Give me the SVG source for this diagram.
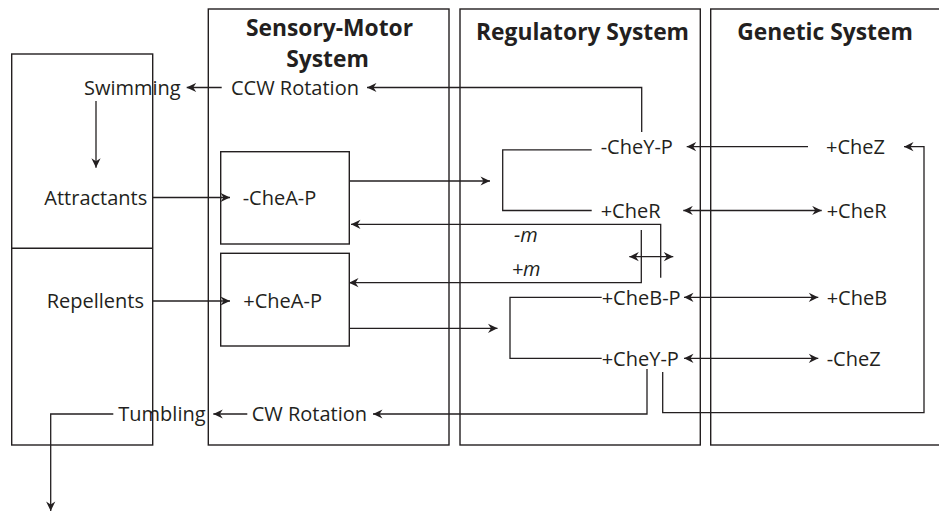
<svg xmlns="http://www.w3.org/2000/svg" width="939" height="514" viewBox="0 0 939 514">
<style>
.box{fill:none;stroke:#231f20;stroke-width:1.4}
.ln{fill:none;stroke:#231f20;stroke-width:1.3}
.t{font-family:"Open Sans","Liberation Sans",sans-serif;font-size:20px;fill:#231f20}
.h{font-family:"Open Sans","Liberation Sans",sans-serif;font-size:22.8px;font-weight:bold;fill:#231f20;text-anchor:middle}
.i{font-style:italic}
</style>
<defs>
<marker id="ah" viewBox="-10 -5 10 10" refX="0" refY="0" markerWidth="10" markerHeight="10" markerUnits="userSpaceOnUse" orient="auto-start-reverse">
<path d="M0,0 L-9.5,-4.6 L-6.5,0 L-9.5,4.6 Z" fill="#231f20"/>
</marker>
</defs>
<rect width="939" height="514" fill="#fff"/>

<g id="environment">
<rect class="box" x="11.7" y="54" width="141" height="391"/>
<line class="box" x1="11.7" y1="248.3" x2="152.7" y2="248.3"/>
</g>
<g id="sensory-motor-system">
<rect class="box" x="208.3" y="9" width="240.7" height="436"/>
<text class="h" x="329.5" y="35.8">Sensory-Motor</text>
<text class="h" x="327.5" y="67">System</text>
</g>
<g id="regulatory-system">
<rect class="box" x="460" y="9" width="240.3" height="436"/>
<text class="h" x="582.5" y="40">Regulatory System</text>
</g>
<g id="genetic-system">
<rect class="box" x="710.7" y="9" width="240" height="436"/>
<text class="h" x="825" y="40">Genetic System</text>
</g>

<g id="connectors">
<path class="ln" d="M221.7,87.5 H186.7" marker-end="url(#ah)"/>
<path class="ln" d="M641.7,132 V87.5 H367" marker-end="url(#ah)"/>
<path class="ln" d="M96,101 V167.7" marker-end="url(#ah)"/>
<path class="ln" d="M152.7,197.5 H230" marker-end="url(#ah)"/>
<path class="ln" d="M152.7,301 H230" marker-end="url(#ah)"/>
<path class="ln" d="M349.3,181 H490" marker-end="url(#ah)"/>
<path class="ln" d="M349.3,328.3 H497.5" marker-end="url(#ah)"/>
<path class="ln" d="M591.7,149.8 H502.7 V210.5 H591.7"/>
<path class="ln" d="M601.7,297.3 H510 V358.3 H601.7"/>
<path class="ln" d="M808,146.7 H686.7" marker-end="url(#ah)"/>
<path class="ln" d="M683.3,210.5 H821.7" marker-start="url(#ah)" marker-end="url(#ah)"/>
<path class="ln" d="M660.7,277.7 V224.3 H351" marker-end="url(#ah)"/>
<path class="ln" d="M641.3,230 V282.7 H349" marker-end="url(#ah)"/>
<path class="ln" d="M629.3,256.7 H673.3" marker-start="url(#ah)" marker-end="url(#ah)"/>
<path class="ln" d="M684,297.3 H818.3" marker-start="url(#ah)" marker-end="url(#ah)"/>
<path class="ln" d="M684,358.3 H818.3" marker-start="url(#ah)" marker-end="url(#ah)"/>
<path class="ln" d="M647,369 V414 H373" marker-end="url(#ah)"/>
<path class="ln" d="M662.7,372 V412.7 H924 V146.7 H904" marker-end="url(#ah)"/>
<path class="ln" d="M247.3,414 H213.3" marker-end="url(#ah)"/>
<path class="ln" d="M113.3,414 H50.7 V511" marker-end="url(#ah)"/>
</g>

<g id="swimming"><text class="t" x="84" y="95">Swimming</text></g>
<g id="attractants"><text class="t" x="44.3" y="204.8">Attractants</text></g>
<g id="repellents"><text class="t" x="46.7" y="308.3">Repellents</text></g>
<g id="tumbling"><text class="t" x="118.3" y="421.3">Tumbling</text></g>
<g id="ccw-rotation"><text class="t" x="231" y="95">CCW Rotation</text></g>
<g id="cw-rotation"><text class="t" x="251.7" y="421.3">CW Rotation</text></g>
<g id="minus-chea-p">
<rect class="box" x="220.7" y="151.7" width="128.6" height="92.3"/>
<text class="t" x="242.7" y="205">-CheA-P</text>
</g>
<g id="plus-chea-p">
<rect class="box" x="220.7" y="253.3" width="128.6" height="92.7"/>
<text class="t" x="243.3" y="308.3">+CheA-P</text>
</g>
<g id="minus-chey-p"><text class="t" x="600.7" y="154">-CheY-P</text></g>
<g id="plus-cher-reg"><text class="t" x="600.7" y="217.8">+CheR</text></g>
<g id="minus-m"><text class="t i" x="514" y="241.5">-m</text></g>
<g id="plus-m"><text class="t i" x="511.7" y="276">+m</text></g>
<g id="plus-cheb-p"><text class="t" x="601.7" y="304.6">+CheB-P</text></g>
<g id="plus-chey-p"><text class="t" x="601.7" y="365.6">+CheY-P</text></g>
<g id="plus-chez"><text class="t" x="826" y="154">+CheZ</text></g>
<g id="plus-cher-gen"><text class="t" x="826.7" y="217.8">+CheR</text></g>
<g id="plus-cheb"><text class="t" x="826.7" y="304.6">+CheB</text></g>
<g id="minus-chez"><text class="t" x="826.7" y="365.6">-CheZ</text></g>
</svg>
